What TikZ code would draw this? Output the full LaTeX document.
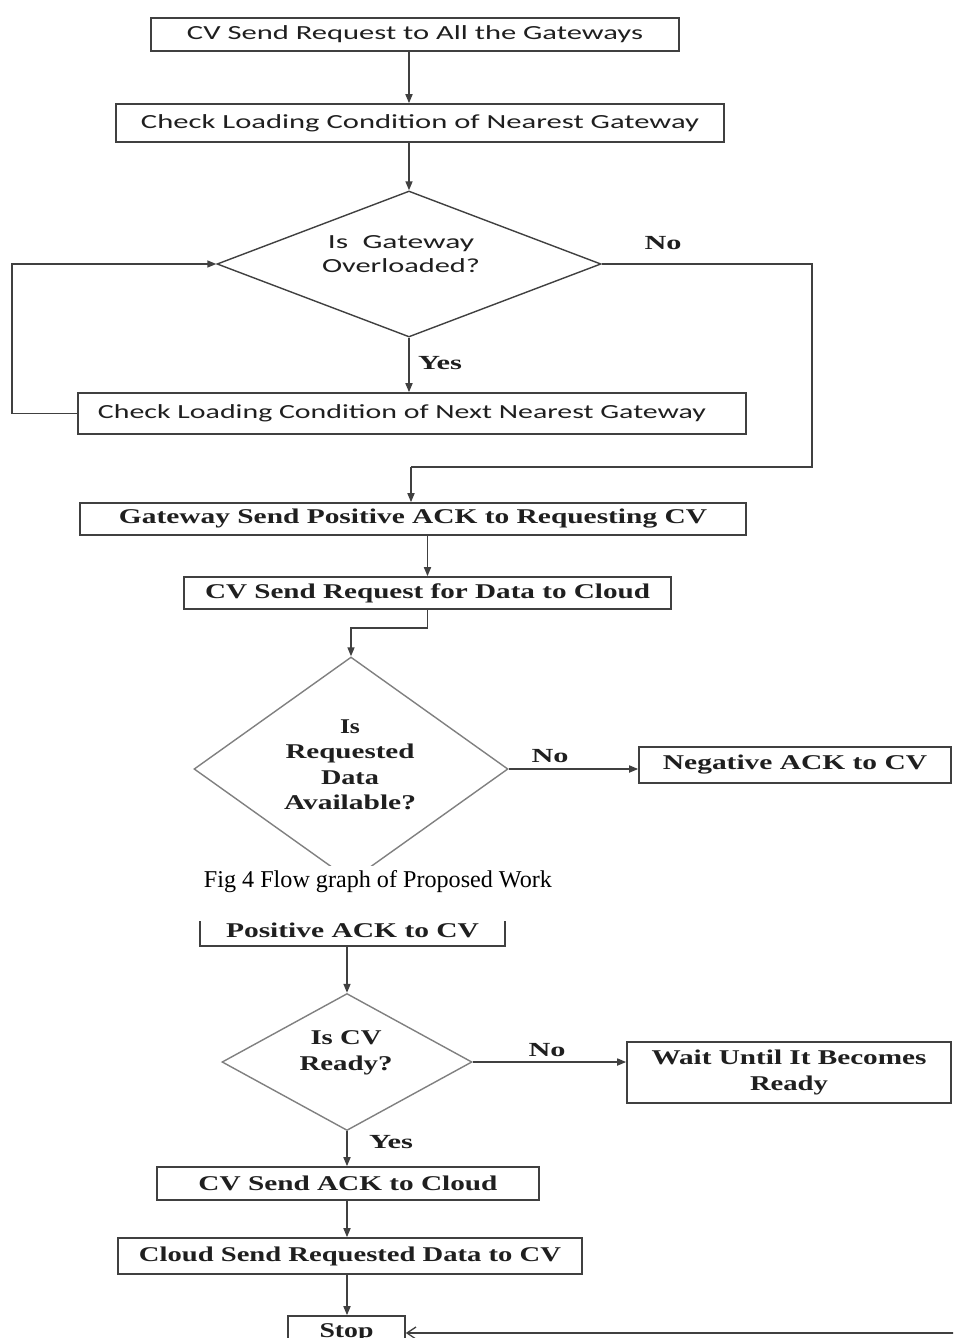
\documentclass[tikz,border=0pt]{standalone}
\usepackage{fontspec}
\setmainfont{Liberation Serif}
\newfontfamily\calfont{Carlito}
\usetikzlibrary{shapes.geometric,arrows.meta}
\definecolor{linec}{gray}{0.25}
\definecolor{diac}{gray}{0.5}
\definecolor{txtc}{gray}{0.12}
\newcommand{\fw}[2]{\resizebox{#1pt}{\height}{#2}}
\begin{document}
\begin{tikzpicture}[x=1pt,y=-1pt,
  boxs/.style={draw=linec, line width=1.6pt, inner sep=0pt, text=txtc, align=center},
  dia/.style={diamond, draw=#1, line width=1.4pt, inner sep=0pt},
  txt/.style={inner sep=0pt, text=txtc, align=center},
  sf/.style={font=\fontsize{21}{#1}\selectfont\bfseries},
  sf/.default=25.5,
  cf/.style={font=\calfont\fontsize{20}{#1}\selectfont},
  cf/.default=24,
  conn/.style={draw=linec, line width=1.6pt},
  arr/.style={conn, -{Triangle[length=9pt,width=7pt]}},
  openarr/.style={conn, line width=1.3pt, -{Straight Barb[length=9pt,width=12pt]}},
  lbl/.style={inner sep=0pt, text=txtc, font=\fontsize{20}{22}\selectfont\bfseries}]
\clip (0,0) rectangle (953,1338);
\fill[white] (0,0) rectangle (953,1338);

% top section
\node[boxs, cf, minimum width=528pt, minimum height=33pt] (b1) at (415,34.5) {\fw{456}{CV Send Request to All the Gateways}};
\node[boxs, cf, minimum width=608pt, minimum height=38pt] (b2) at (420,123) {\fw{558}{Check Loading Condition of Nearest Gateway}};
\node[dia=linec, minimum width=384pt, minimum height=146pt] (d1) at (409,264) {};
\node[txt, cf=24] (d1t) at (401,254) {\fw{146}{Is\ \ Gateway}\\\fw{158}{Overloaded?}};
\node[boxs, cf, minimum width=668pt, minimum height=41pt] (b3) at (412,413.5) {\fw{608}{Check Loading Condition of Next Nearest Gateway}\hspace{20pt}};
\node[boxs, sf, minimum width=666pt, minimum height=32pt] (b4) at (413,519) {\fw{588}{Gateway Send Positive ACK to Requesting CV}};
\node[boxs, sf, minimum width=487pt, minimum height=32pt] (b5) at (427.5,593) {\fw{445}{CV Send Request for Data to Cloud}};
\node[dia=diac, minimum width=314pt, minimum height=224pt] (d2) at (351,769) {};
\node[txt, sf=25.5] (d2t) at (350,765) {\fw{20}{Is}\\\fw{129}{Requested}\\\fw{58}{Data}\\\fw{132}{Available?}};
\node[boxs, sf, minimum width=312pt, minimum height=36pt] (b6) at (795,765) {\fw{264}{Negative ACK to CV}};

% connectors top
\draw[arr] (b1.south -| d1.north) -- (b2.north -| d1.north);
\draw[arr] (b2.south -| d1.north) -- (d1.north);
\draw[arr] (d1.south) -- (b3.north -| d1.south);
\coordinate (lp) at (12,0);
\draw[arr] (b3.west) -- (b3.west -| lp) -- (d1.west -| lp) -- (d1.west);
\coordinate (n1) at (812,264);
\coordinate (n2) at (812,467);
\coordinate (n3) at (411,467);
\draw[conn] (d1.east) -- (n1) -- (n2) -- (n3);
\draw[arr] (n3) -- (b4.north -| n3);
\draw[arr] (b4.south -| b5.north) -- (b5.north);
\draw[arr] (b5.south) -- ++(0,18) -| (d2.north);
\draw[arr] (d2.east) -- (d2.east -| b6.west);
\node[lbl] (no1) at (663,243) {\fw{37}{No}};
\node[lbl] (yes1) at (440,363) {\fw{44}{Yes}};
\node[lbl] (no2) at (550,756) {\fw{37}{No}};

% lower section
\node[boxs, sf, minimum width=305pt, minimum height=32pt] (b7) at (352.5,930) {\fw{253}{Positive ACK to CV}};

% page break cover and caption
\fill[white] (0,866) rectangle (953,921);
\node[txt, text=black, font=\fontsize{24}{26}\selectfont] (cap) at (378,882) {\resizebox{348pt}{!}{Fig 4 Flow graph of Proposed Work}};

\node[dia=diac, minimum width=250pt, minimum height=137pt] (d3) at (347,1062) {};
\node[txt, sf=26] (d3t) at (346,1053) {\fw{71}{Is CV}\\\fw{93}{Ready?}};
\node[boxs, sf=26, minimum width=324pt, minimum height=61pt] (b8) at (789,1072.5) {\fw{275}{Wait Until It Becomes}\\\fw{78}{Ready}};
\node[boxs, sf, minimum width=382pt, minimum height=33pt] (b9) at (348,1183.5) {\fw{299}{CV Send ACK to Cloud}};
\node[boxs, sf, minimum width=464pt, minimum height=36pt] (b10) at (350,1256) {\fw{422}{Cloud Send Requested Data to CV}};
\node[boxs, sf, minimum width=117pt, minimum height=34pt] (stop) at (346.5,1333) {\fw{54}{Stop}};

\draw[arr] (b7.south -| d3.north) -- (d3.north);
\draw[arr] (d3.east) -- (d3.east -| b8.west);
\draw[arr] (d3.south) -- (b9.north -| d3.south);
\draw[arr] (b9.south -| d3.south) -- (b10.north -| d3.south);
\draw[arr] (b10.south -| d3.south) -- (stop.north -| d3.south);
\coordinate (sr) at (960,1333);
\draw[openarr] (sr) -- (stop.east);
\node[lbl] (no3) at (547,1050) {\fw{37}{No}};
\node[lbl] (yes2) at (391,1142) {\fw{44}{Yes}};
\end{tikzpicture}
\end{document}
